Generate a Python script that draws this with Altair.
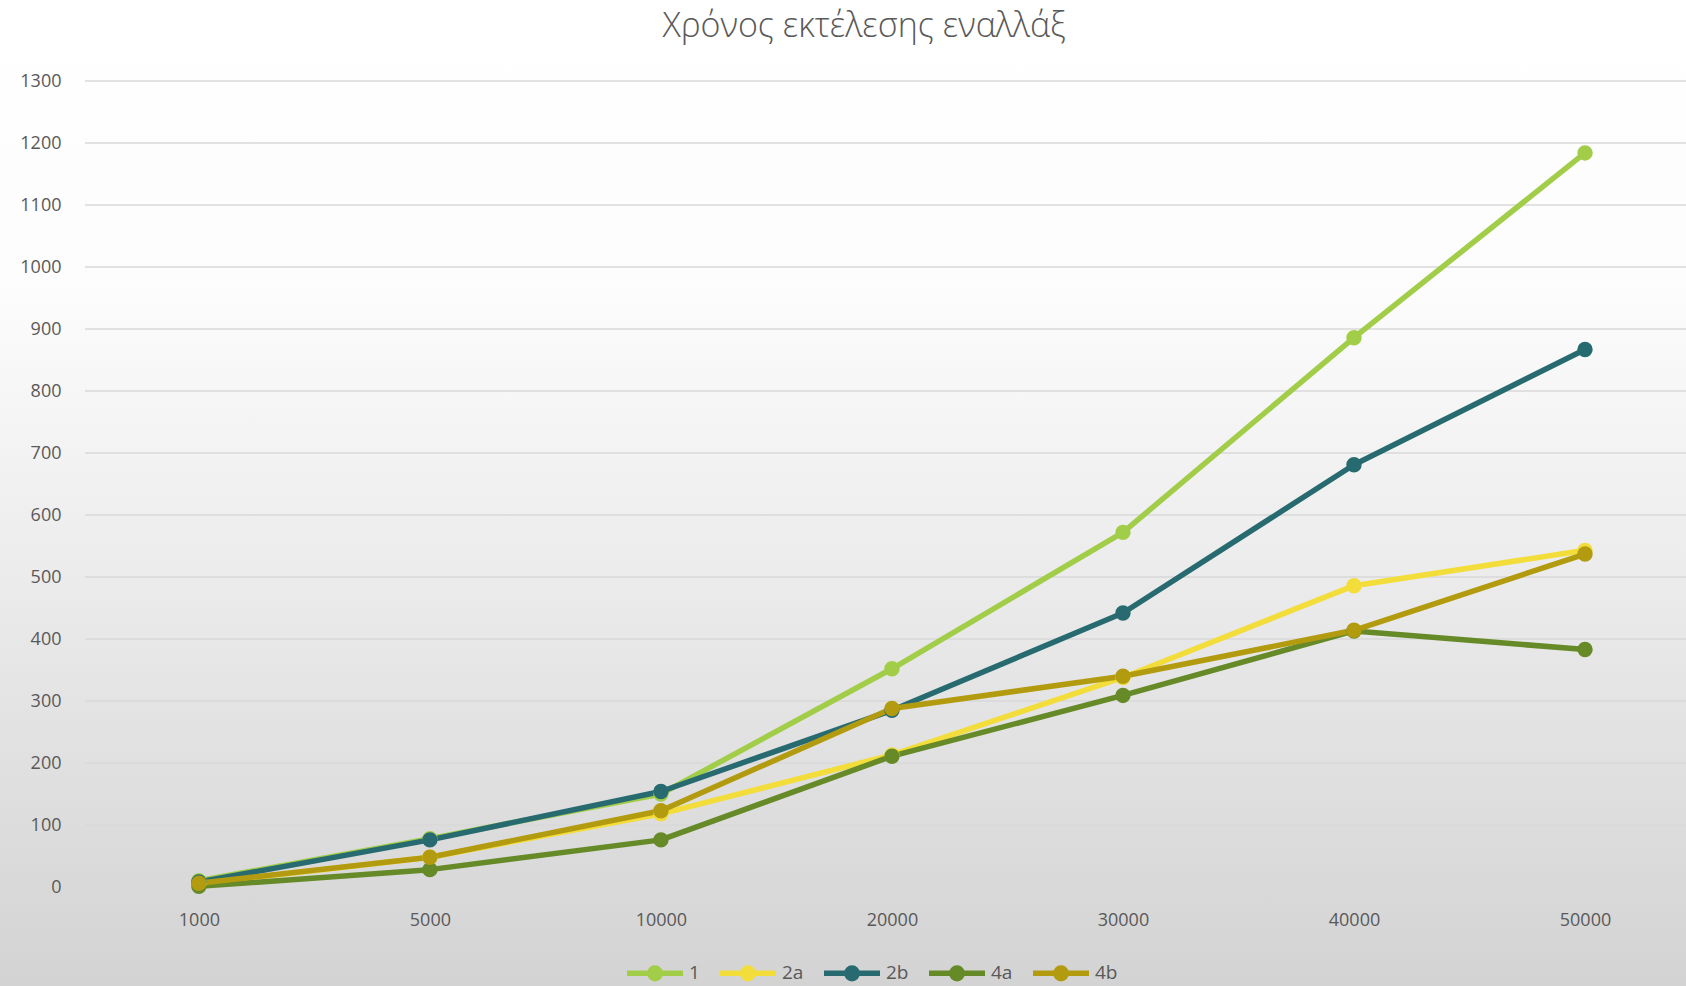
import altair as alt
import pandas as pd

# Problem sizes on the x axis (categorical) and the five variants
sizes = ["1000", "5000", "10000", "20000", "30000", "40000", "50000"]
series_names = ["1", "2a", "2b", "4a", "4b"]

# Execution times per variant
times_1 = [10, 78, 150, 352, 572, 886, 1184]
times_2a = [5, 48, 118, 213, 338, 486, 543]
times_2b = [8, 76, 154, 285, 442, 681, 867]
times_4a = [1, 28, 76, 211, 309, 413, 383]
times_4b = [6, 48, 123, 288, 340, 414, 537]

series_colors = ["#A2CD48", "#F3DD3A", "#276B71", "#668A27", "#B39B0F"]
y_ticks = list(range(0, 1301, 100))
chart_title = "Χρόνος εκτέλεσης εναλλάξ"

rows = []
for name, vals in zip(series_names, [times_1, times_2a, times_2b, times_4a, times_4b]):
    for i, (s, v) in enumerate(zip(sizes, vals)):
        rows.append({"size": s, "idx": i, "series": name, "time": v})
df = pd.DataFrame(rows)
grid_df = pd.DataFrame({"time": y_ticks})

W, H = 1601, 806
PAD = {"left": 85, "top": 81, "right": 0, "bottom": 99}
FONT = "Open Sans"
TEXT = "#595959"

x_enc = alt.X(
    "size:N",
    sort=sizes,
    scale=alt.Scale(type="point", padding=0.465, align=0.53),
    axis=alt.Axis(
        title=None, labelAngle=0, domain=False, ticks=False, grid=False,
        labelFontSize=18, labelColor=TEXT, labelFont=FONT, labelPadding=24,
        zindex=1,
    ),
)
y_scale = alt.Scale(domain=[0, 1300], nice=False)
y_axis = alt.Axis(
    title=None, values=y_ticks, format="d", domain=False, ticks=False, grid=False,
    labelFontSize=18, labelColor=TEXT, labelFont=FONT, labelPadding=24,
    zindex=1,
)
y_enc = alt.Y("time:Q", scale=y_scale, axis=y_axis)

color_scale = alt.Scale(domain=series_names, range=series_colors)
legend_symbol = "M-1,0L1,0M-0.19,0A0.19,0.19,0,1,1,0.19,0A0.19,0.19,0,1,1,-0.19,0Z"
legend = alt.Legend(
    title=None, orient="none", direction="horizontal",
    legendX=539, legendY=861,
    symbolType=legend_symbol, symbolSize=3136, symbolStrokeWidth=5.5,
    labelFontSize=19, labelColor=TEXT, labelFont=FONT, labelOffset=3,
    columnPadding=9, padding=0, zindex=1,
)
color_enc = alt.Color("series:N", scale=color_scale, legend=legend)

# Gradient panel behind the whole chart
bg = alt.Chart(pd.DataFrame({"k": [0]})).mark_rect(
    fill=alt.Gradient(
        gradient="linear",
        stops=[
            alt.GradientStop(color="#FFFFFF", offset=0),
            alt.GradientStop(color="#FCFCFC", offset=0.3),
            alt.GradientStop(color="#D3D3D3", offset=1),
        ],
        x1=0, x2=0, y1=0, y2=1,
    ),
    clip=False,
).encode(
    x=alt.value(-PAD["left"]), x2=alt.value(W + PAD["right"]),
    y=alt.value(-PAD["top"]), y2=alt.value(H + PAD["bottom"]),
)

# Horizontal gridlines at every y tick
grid = alt.Chart(grid_df).mark_rule(color="#D9D9D9", strokeWidth=1.3).encode(
    y=y_enc,
    x=alt.value(0), x2=alt.value(W),
)

lines = alt.Chart(df).mark_line(strokeWidth=5.5, strokeCap="round", strokeJoin="round").encode(
    x=x_enc, y=y_enc,
    color=color_enc,
    order=alt.Order("idx:Q"),
)

points = alt.Chart(df).mark_point(filled=True, size=180, opacity=1).encode(
    x=x_enc, y=y_enc,
    color=color_enc,
    stroke=alt.Stroke("series:N", scale=color_scale, legend=legend),
)

# Chart title, centred over the content
title = alt.Chart(pd.DataFrame({"t": [chart_title]})).mark_text(
    font=FONT, fontSize=34, fontWeight=300, color=TEXT, align="center", baseline="alphabetic",
).encode(
    text="t:N",
    x=alt.value(864 - PAD["left"]),
    y=alt.value(37 - PAD["top"]),
)

chart = alt.layer(bg, grid, lines, points, title).properties(
    width=W,
    height=H,
    padding=PAD,
    autosize=alt.AutoSizeParams(type="none"),
).configure_view(stroke=None).configure(background="#FFFFFF")

chart.save("out.html", embed_options={"renderer": "svg", "actions": False})
